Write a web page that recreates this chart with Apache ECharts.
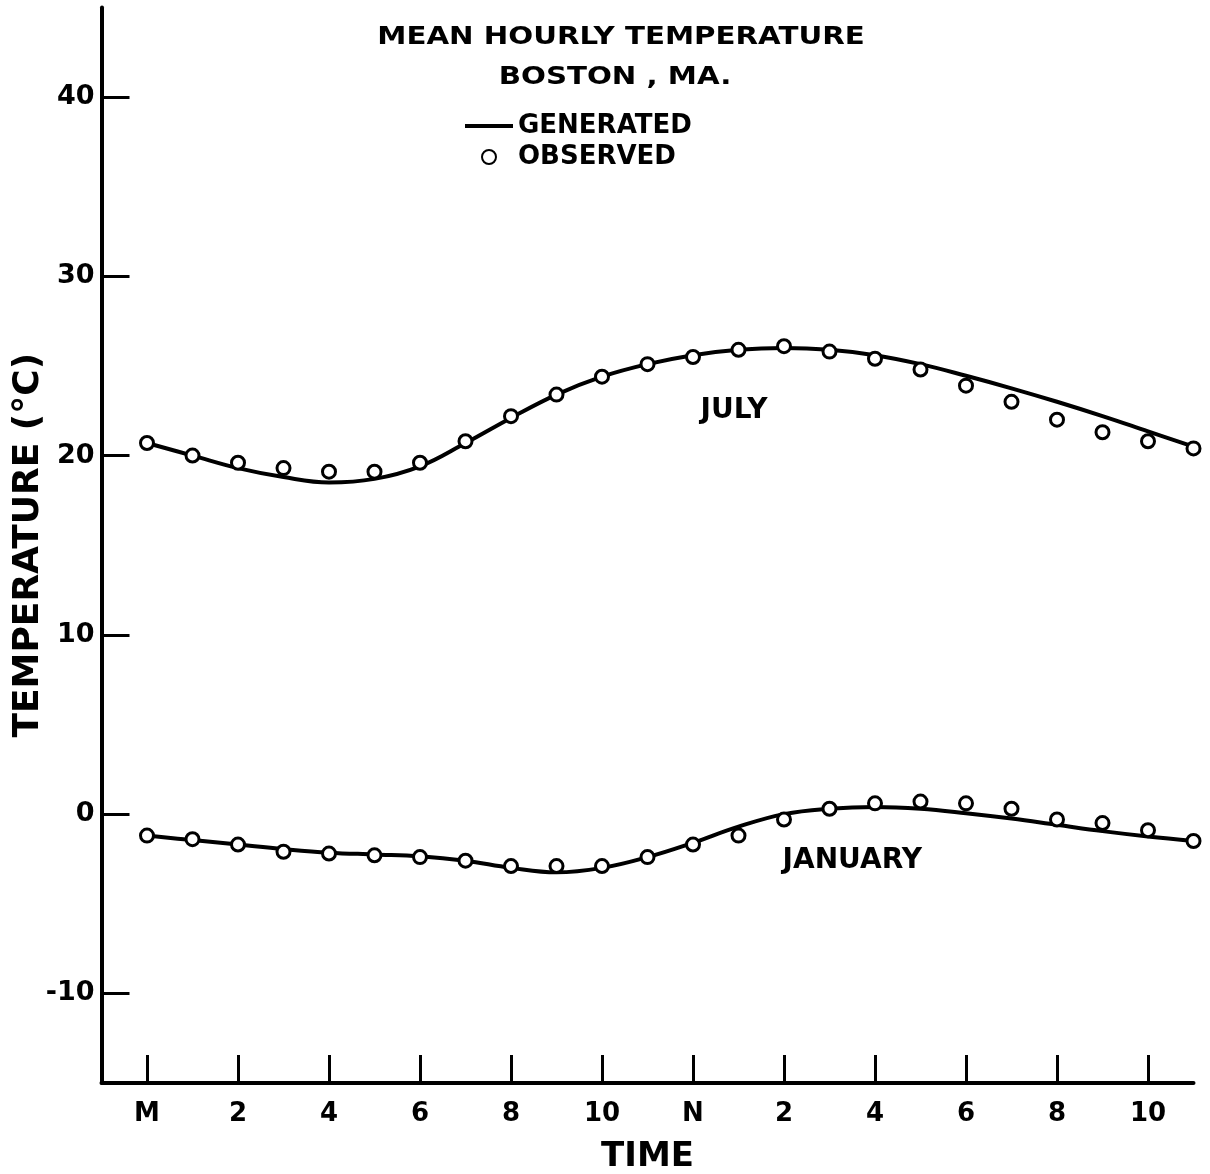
<!DOCTYPE html>
<html>
<head>
<meta charset="utf-8">
<script src="https://cdn.jsdelivr.net/npm/echarts@6/dist/echarts.min.js"></script>
<style>html,body{margin:0;padding:0;background:#fff}#chart{width:1210px;height:1174px}</style>
</head>
<body>
<div id="chart"></div>
<script>
// ---- data ----
const hours = [0,1,2,3,4,5,6,7,8,9,10,11,12,13,14,15,16,17,18,19,20,21,22,23];
const xTickValues = [0,2,4,6,8,10,12,14,16,18,20,22];
const xTickLabels = ['M','2','4','6','8','10','N','2','4','6','8','10'];
const yTickValues = [-10,0,10,20,30,40];
const julyGenerated = [20.7,20.0,19.3,18.8,18.5,18.7,19.4,20.7,22.1,23.4,24.4,25.1,25.6,25.9,26.0,25.9,25.6,25.1,24.45,23.75,23.0,22.2,21.35,20.5];
const julyObserved  = [20.7,20.0,19.6,19.3,19.1,19.1,19.6,20.8,22.2,23.4,24.4,25.1,25.5,25.9,26.1,25.8,25.4,24.8,23.9,23.0,22.0,21.3,20.8,20.4];
const janGenerated  = [-1.2,-1.45,-1.7,-1.95,-2.15,-2.25,-2.35,-2.6,-3.0,-3.25,-3.0,-2.4,-1.6,-0.7,0.0,0.3,0.4,0.3,0.05,-0.25,-0.6,-0.95,-1.25,-1.5];
const janObserved   = [-1.2,-1.4,-1.7,-2.1,-2.2,-2.3,-2.4,-2.6,-2.9,-2.9,-2.9,-2.4,-1.7,-1.2,-0.3,0.3,0.6,0.7,0.6,0.3,-0.3,-0.5,-0.9,-1.5];
const annotations = [{name:'JULY', x:12.9, y:22.5}, {name:'JANUARY', x:15.5, y:-2.6}];

const FONT = 'DejaVu Sans';
const pairs = arr => hours.map((h,i)=>[h, arr[i]]);

const chart = echarts.init(document.getElementById('chart'), null, {renderer:'canvas'});

const lineStyle = {color:'#000', width:4};
const genSeries = (arr, extra) => Object.assign({
  name:'GENERATED', type:'line', data:pairs(arr), smooth:0.4, symbol:'none', showSymbol:false,
  lineStyle:lineStyle, itemStyle:{color:'#000'}, z:2, silent:true
}, extra||{});
const obsSeries = arr => ({
  name:'OBSERVED', type:'scatter', data:pairs(arr), symbol:'circle', symbolSize:13,
  itemStyle:{color:'#fff', borderColor:'#000', borderWidth:3, opacity:1}, z:3, silent:true
});

chart.setOption({
  animation:false,
  backgroundColor:'#fff',
  grid:{left:101.5, right:16.5, top:7.4, bottom:91, containLabel:false, outerBoundsMode:'none'},
  legend:{
    data:[
      {name:'GENERATED', icon:'path://M0,0L48,0L48,4L0,4Z', itemStyle:{color:'#000', borderWidth:0}},
      {name:'OBSERVED'}
    ],
    orient:'vertical', left:460, top:108,
    itemWidth:48, itemHeight:14, itemGap:5, symbolKeepAspect:true,
    textStyle:{fontFamily:FONT, fontSize:26, fontWeight:'bold', color:'#000'},
    selectedMode:false
  },
  graphic:[
    {type:'text', x:621, y:38, scaleX:1.22, style:{text:'MEAN HOURLY TEMPERATURE', font:'bold 24px "DejaVu Sans"', fill:'#000', textAlign:'center', textVerticalAlign:'middle'}},
    {type:'text', x:615, y:78, scaleX:1.22, style:{text:'BOSTON , MA.', font:'bold 24px "DejaVu Sans"', fill:'#000', textAlign:'center', textVerticalAlign:'middle'}}
  ],
  xAxis:{
    type:'value', min:-1, max:23,
    name:'TIME', nameLocation:'middle', nameGap:57, nameMoveOverlap:false,
    nameTextStyle:{fontFamily:FONT, fontSize:34, fontWeight:'bold', color:'#000', verticalAlign:'top'},
    axisLine:{show:true, onZero:false, lineStyle:{color:'#000', width:4}},
    axisTick:{show:true, inside:true, length:28, customValues:xTickValues, lineStyle:{color:'#000', width:3}},
    axisLabel:{show:true, customValues:xTickValues, margin:18, fontFamily:FONT, fontSize:26, fontWeight:'bold', color:'#000',
      formatter:v=>{const i=xTickValues.indexOf(v); return i>=0?xTickLabels[i]:'';}},
    splitLine:{show:false}
  },
  yAxis:{
    type:'value', min:-15, max:45,
    name:'TEMPERATURE (°C)', nameLocation:'middle', nameGap:55, nameRotate:90, nameMoveOverlap:false,
    nameTextStyle:{fontFamily:FONT, fontSize:36, fontWeight:'bold', color:'#000', verticalAlign:'bottom'},
    axisLine:{show:true, onZero:false, lineStyle:{color:'#000', width:4}},
    axisTick:{show:true, inside:true, length:28, customValues:yTickValues, lineStyle:{color:'#000', width:3}},
    axisLabel:{show:true, customValues:yTickValues, margin:7, fontFamily:FONT, fontSize:27, fontWeight:'bold', color:'#000'},
    splitLine:{show:false}
  },
  series:[
    genSeries(julyGenerated, {
      markPoint:{symbol:'circle', symbolSize:0, silent:true,
        label:{show:true, position:'inside', formatter:p=>p.name, fontFamily:FONT, fontSize:28, fontWeight:'bold', color:'#000'},
        itemStyle:{color:'transparent'},
        data:annotations.map(a=>({name:a.name, coord:[a.x,a.y]}))}
    }),
    genSeries(janGenerated),
    obsSeries(julyObserved),
    obsSeries(janObserved)
  ]
});
</script>
</body>
</html>
